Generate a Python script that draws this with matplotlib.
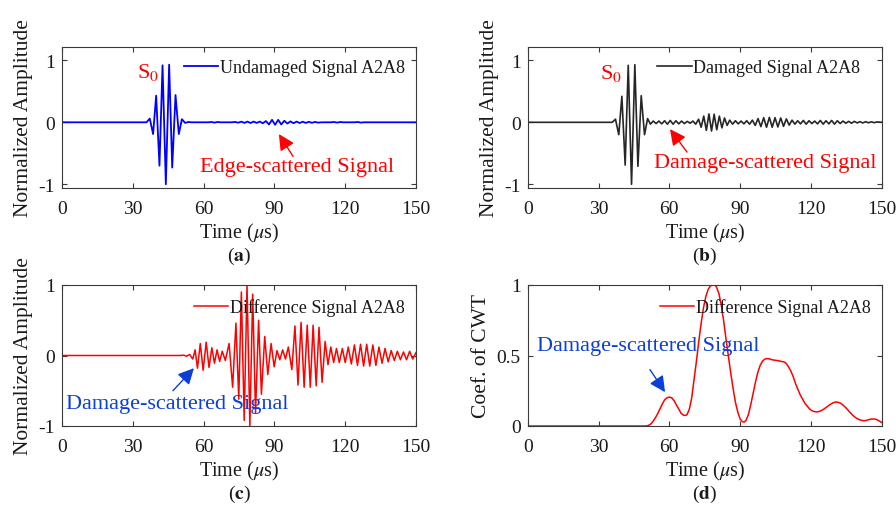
import matplotlib
matplotlib.use("Agg")
import matplotlib.pyplot as plt

# ---- data (extrema of each trace, in us / normalized units) ----
time_ticks = [0, 30, 60, 90, 120, 150]

# (a) undamaged signal A2A8
undamaged_t = [0, 35.8, 37.2, 38.6, 39.9, 41.3, 42.6, 44.0, 45.4, 46.7, 48.1, 49.5, 50.8, 52.2, 53.5, 55.0,
               62.0, 63.3, 64.6, 65.9, 67.2, 72.0, 73.3, 74.6,
               76.0, 77.3, 78.6, 79.9, 81.2, 82.5, 83.8, 85.1, 86.4, 87.7, 89.0, 90.3, 91.6, 92.9, 94.2,
               95.5, 96.8, 98.1, 99.4, 100.7, 102.0, 103.3, 104.6, 105.9, 107.2, 108.5, 110.0,
               114.0, 115.3, 116.6, 117.9, 119.2, 124.0, 125.3, 126.6, 127.9, 150.0]
undamaged_a = [0, 0, 0.06, -0.19, 0.43, -0.70, 0.92, -1.0, 0.93, -0.73, 0.44, -0.19, 0.05, -0.01, 0.005, 0,
               0, 0.005, -0.005, 0.005, 0, 0, 0.006, -0.006,
               0.01, -0.01, 0.012, -0.012, 0.012, -0.01, 0.012, -0.015, 0.02, -0.035, 0.04, -0.04, 0.04, -0.035, 0.025,
               -0.02, 0.015, -0.015, 0.012, -0.012, 0.01, -0.01, 0.008, -0.008, 0.006, -0.005, 0,
               0, 0.005, -0.005, 0.005, 0, 0, 0.005, -0.005, 0, 0]

# (b) damaged signal A2A8
damaged_t = [0, 35.8, 37.2, 38.6, 39.9, 41.3, 42.6, 44.0, 45.4, 46.7, 48.1, 49.5, 50.8,
             52.0, 53.2, 54.4, 55.6, 56.8, 58.0, 59.2, 60.4, 61.6, 62.8, 64.0, 65.2, 66.4, 67.6, 68.8, 70.0,
             71.2, 72.4, 73.5, 74.6, 75.7, 76.8, 77.9, 79.0, 80.1, 81.2, 82.3, 83.4, 84.5, 85.6,
             86.8, 88.0, 89.2, 90.4, 91.6, 92.8, 94.0, 95.2, 96.4, 97.6, 98.8, 100.0, 101.2, 102.4,
             103.6, 104.8, 106.0, 107.2, 108.4, 109.6, 110.8, 112.0, 113.2, 114.4, 115.6, 116.8, 118.0,
             119.2, 120.4, 121.6, 122.8, 124.0, 125.2, 126.4, 127.6, 128.8, 130.0, 131.2, 132.4, 133.6,
             134.8, 136.0, 137.2, 138.4, 139.6, 140.8, 142.0, 143.2, 144.4, 145.6, 146.8, 148.0, 150.0]
damaged_a = [0, 0, 0.05, -0.20, 0.42, -0.69, 0.92, -1.0, 0.93, -0.71, 0.43, -0.20, 0.06,
             -0.03, 0.02, -0.02, 0.02, -0.025, 0.025, -0.03, 0.03, -0.03, 0.025, -0.025, 0.02, -0.02, 0.015, -0.015, 0.02,
             -0.03, 0.05, -0.08, 0.10, -0.13, 0.135, -0.14, 0.13, -0.12, 0.10, -0.09, 0.07, -0.05, 0.035,
             -0.03, 0.025, -0.025, 0.02, -0.025, 0.025, -0.03, 0.035, -0.05, 0.06, -0.07, 0.075, -0.08, 0.08,
             -0.08, 0.075, -0.075, 0.07, -0.065, 0.055, -0.045, 0.035, -0.03, 0.025, -0.025, 0.03, -0.03,
             0.025, -0.02, 0.02, -0.025, 0.03, -0.03, 0.025, -0.025, 0.03, -0.03, 0.025, -0.02, 0.02,
             -0.015, 0.015, -0.015, 0.015, -0.01, 0.01, -0.01, 0.01, -0.008, 0.008, -0.006, 0.006, 0]

# (c) difference signal A2A8
diff_t = [0, 50.0, 51.5, 52.8, 54.1, 55.4, 56.4, 57.4, 58.6, 59.8, 61.1, 62.3, 63.5, 64.6, 65.7, 66.8,
          67.9, 69.2, 70.8, 72.3, 73.7, 74.9, 76.0, 77.2, 78.4, 79.6, 80.8, 82.0, 83.3, 84.5, 85.9,
          87.2, 88.6, 89.9, 91.1, 92.3, 93.5, 94.7, 95.9, 97.4, 98.7, 100.0, 101.3, 102.6, 103.9,
          105.2, 106.4, 107.7, 108.9, 110.2, 111.5, 112.7, 113.9, 115.1, 116.3, 117.5, 118.8, 120.0,
          121.3, 122.6, 123.9, 125.2, 126.5, 127.8, 129.1, 130.4, 131.7, 133.0, 134.3, 135.6, 136.9,
          138.2, 139.5, 140.8, 142.1, 143.4, 144.7, 146.0, 147.3, 148.6, 150.0]
diff_a = [0, 0, 0.005, -0.01, 0.015, -0.05, 0.08, -0.18, 0.17, -0.21, 0.19, -0.17, 0.11, -0.11, 0.08, -0.085,
          0.06, -0.07, 0.17, -0.45, 0.46, -0.62, 0.90, -0.92, 1.0, -1.0, 0.87, -0.82, 0.50, -0.55, 0.27,
          -0.27, 0.17, -0.16, 0.07, -0.06, 0.08, -0.05, 0.12, -0.20, 0.42, -0.42, 0.47, -0.45, 0.43,
          -0.45, 0.43, -0.43, 0.40, -0.38, 0.20, -0.13, 0.12, -0.10, 0.10, -0.10, 0.10, -0.10,
          0.12, -0.12, 0.15, -0.14, 0.16, -0.15, 0.16, -0.15, 0.15, -0.14, 0.12, -0.11, 0.10,
          -0.09, 0.07, -0.07, 0.06, -0.06, 0.05, -0.06, 0.06, -0.05, 0.04]

# (d) CWT coefficient of the difference signal
cwt_t = [0, 50.0, 51.0, 52.0, 53.0, 54.0, 55.0, 56.0, 57.0, 58.0, 59.0, 60.0, 61.0, 62.0, 63.0, 64.0,
         65.0, 66.0, 66.8, 67.5, 68.5, 69.5, 70.5, 71.5, 72.5, 73.5, 74.5, 75.5, 76.5, 77.5, 78.5,
         79.3, 80.0, 81.0, 82.0, 83.0, 84.0, 85.0, 86.0, 87.0, 88.0, 89.0, 90.0, 91.0, 91.8, 92.5,
         93.5, 94.5, 95.5, 96.5, 97.5, 98.5, 99.5, 100.5, 101.5, 102.5, 103.5, 104.5, 105.5, 106.5,
         107.5, 108.5, 109.5, 110.5, 111.5, 112.5, 113.5, 114.5, 115.5, 116.5, 117.5, 118.5, 119.5,
         120.5, 121.5, 122.5, 123.5, 124.5, 125.5, 126.5, 127.5, 128.5, 129.5, 130.5, 131.5, 132.5,
         133.5, 134.5, 135.5, 136.5, 137.5, 138.5, 139.5, 140.5, 141.5, 142.5, 143.5, 144.5, 145.5,
         146.5, 147.5, 148.5, 149.5, 150.0]
cwt_v = [0, 0, 0.003, 0.012, 0.03, 0.055, 0.085, 0.12, 0.155, 0.185, 0.20, 0.205, 0.20, 0.18, 0.15, 0.12,
         0.09, 0.077, 0.075, 0.08, 0.12, 0.20, 0.33, 0.46, 0.60, 0.73, 0.84, 0.92, 0.97, 0.995, 1.0,
         1.0, 0.985, 0.94, 0.86, 0.75, 0.62, 0.50, 0.38, 0.27, 0.17, 0.10, 0.05, 0.03, 0.028, 0.04,
         0.08, 0.15, 0.23, 0.31, 0.38, 0.43, 0.46, 0.475, 0.478, 0.476, 0.47, 0.467, 0.465, 0.462,
         0.458, 0.455, 0.445, 0.42, 0.39, 0.35, 0.30, 0.26, 0.22, 0.19, 0.16, 0.14, 0.12,
         0.108, 0.102, 0.10, 0.103, 0.11, 0.12, 0.132, 0.145, 0.156, 0.165, 0.17, 0.168, 0.162,
         0.15, 0.135, 0.117, 0.098, 0.08, 0.065, 0.053, 0.045, 0.04, 0.037, 0.04, 0.045, 0.049,
         0.05, 0.048, 0.04, 0.03, 0.025]

# ---- style ----
SERIF = "Liberation Serif"
plt.rcParams["font.family"] = SERIF
plt.rcParams["mathtext.fontset"] = "stix"
plt.rcParams["axes.unicode_minus"] = False
SPINE = "#3a3a3a"
INK = "#1a1a1a"
RED = "#ff0000"
BLUE = "#0000ff"
TXT_BLUE = "#0b3fd8"

W, H = 896, 506
fig = plt.figure(figsize=(W / 100, H / 100), dpi=100, facecolor="white")


def px_axes(left, top, right, bottom):
    return fig.add_axes([left / W, 1 - bottom / H, (right - left) / W, (bottom - top) / H])


def style(ax, ylim, yticks, yticklabels, ylabel, letter, letter_y):
    ax.set_xlim(0, 150)
    ax.set_ylim(*ylim)
    ax.set_xticks(time_ticks)
    ax.set_xticklabels([str(v) for v in time_ticks])
    ax.set_yticks(yticks)
    ax.set_yticklabels(yticklabels)
    ax.tick_params(direction="in", top=True, right=True, length=3.5, width=0.8,
                   colors=SPINE, labelcolor=INK, labelsize=14)
    ax.tick_params(axis="x", pad=8.5)
    ax.tick_params(axis="y", pad=5)
    for sp in ax.spines.values():
        sp.set_color(SPINE)
        sp.set_linewidth(0.8)
    ax.set_ylabel(ylabel, fontsize=15.5, color=INK, labelpad=4)
    ax.set_xlabel(r"Time ($\mu$s)", fontsize=14.5, color=INK, labelpad=3)
    # panel letter, placed by pixel row
    pos = ax.get_position()
    ax.text(pos.x0 + pos.width / 2, 1 - letter_y / H, r"($\mathbf{" + letter + "}$)",
            transform=fig.transFigure, ha="center", va="center", fontsize=14, color=INK)


def legend(ax, label, x, y):
    lg = ax.legend([ax.lines[0]], [label], loc="center right", bbox_to_anchor=(x, y),
                   frameon=False, fontsize=13, handlelength=1.9, handletextpad=0.1,
                   borderpad=0, borderaxespad=0)
    for t in lg.get_texts():
        t.set_color(INK)


def arrow(ax, text, xy, xytext, tx, ty, color):
    ax.annotate("", xy=xy, xytext=xytext,
                arrowprops=dict(arrowstyle="-|>", color=color, lw=1.0, mutation_scale=24,
                                shrinkA=0, shrinkB=0))
    ax.text(tx, ty, text, color=color, fontsize=16, ha="center", va="center")


# (a)
ax_a = px_axes(62, 47.7, 416, 189)
ax_a.plot(undamaged_t, undamaged_a, color=BLUE, lw=1.3)
style(ax_a, (-1.06, 1.22), [-1, 0, 1], ["-1", "0", "1"], "Normalized Amplitude", "a", 256)
legend(ax_a, "Undamaged Signal A2A8", 0.968, 0.85)
ax_a.text(31.8, 0.82, r"S$_0$", color=RED, fontsize=16, ha="left", va="center")
arrow(ax_a, "Edge-scattered Signal", (91.9, -0.19), (97.9, -0.55), 99.6, -0.72, RED)

# (b)
ax_b = px_axes(527.7, 47.7, 881.7, 189)
ax_b.plot(damaged_t, damaged_a, color="#262626", lw=1.2)
style(ax_b, (-1.06, 1.22), [-1, 0, 1], ["-1", "0", "1"], "Normalized Amplitude", "b", 256)
legend(ax_b, "Damaged Signal A2A8", 0.94, 0.85)
ax_b.text(30.6, 0.80, r"S$_0$", color=RED, fontsize=16, ha="left", va="center")
arrow(ax_b, "Damage-scattered Signal", (60.3, -0.11), (67.5, -0.48), 100.8, -0.65, RED)

# (c)
ax_c = px_axes(62, 286, 416, 427)
ax_c.plot(diff_t, diff_a, color=RED, lw=1.1)
style(ax_c, (-1, 1), [-1, 0, 1], ["-1", "0", "1"], "Normalized Amplitude", "c", 494)
legend(ax_c, "Difference Signal A2A8", 0.968, 0.844)
arrow(ax_c, "Damage-scattered Signal", (55.9, -0.18), (47.0, -0.50), 48.9, -0.68, TXT_BLUE)

# (d)
ax_d = px_axes(527.7, 286, 881.7, 427)
ax_d.plot(cwt_t, cwt_v, color=RED, lw=1.1)
style(ax_d, (0, 1), [0, 0.5, 1], ["0", "0.5", "1"], "Coef. of CWT", "d", 494)
legend(ax_d, "Difference Signal A2A8", 0.969, 0.844)
arrow(ax_d, "Damage-scattered Signal", (58.2, 0.24), (51.8, 0.40), 51.2, 0.574, TXT_BLUE)

fig.savefig("out.png", dpi=100, facecolor="white")
